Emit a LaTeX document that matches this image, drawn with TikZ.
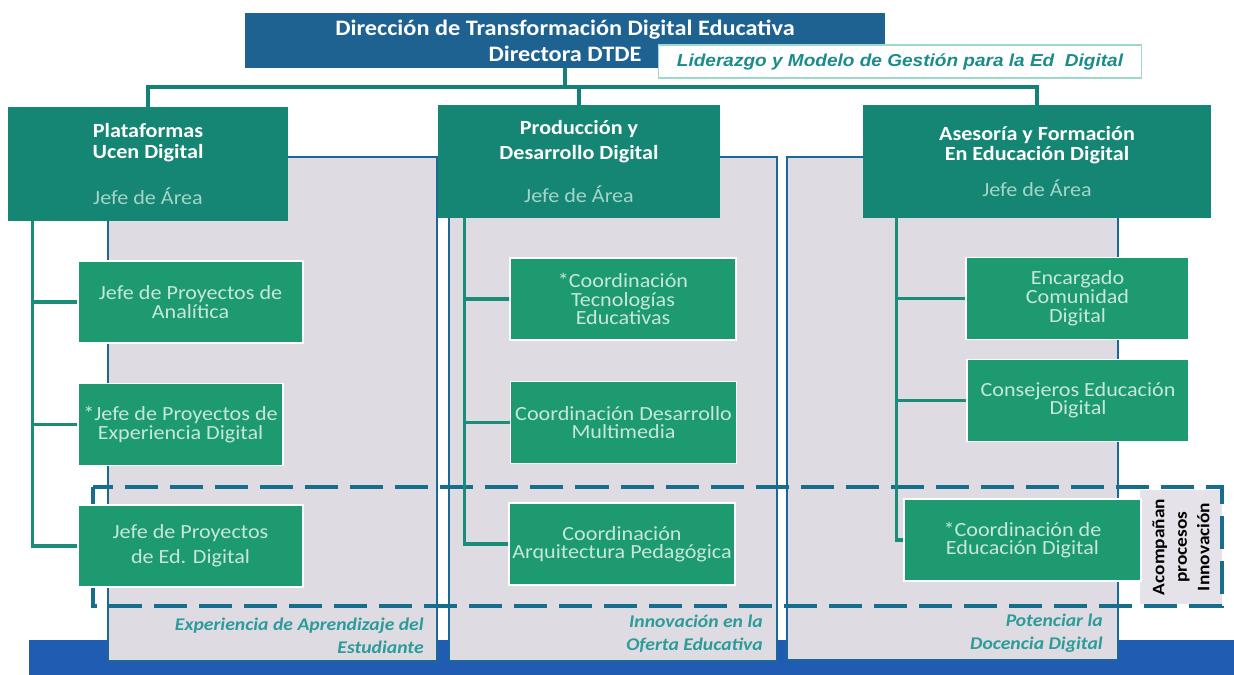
\documentclass[tikz,border=0pt]{standalone}
\usepackage{fontspec}
\setmainfont{Carlito}[FakeStretch=1.1]
\newfontfamily\arialfont{Liberation Sans}[FakeStretch=1.1]

\definecolor{dirblue}{HTML}{1D6290}
\definecolor{areateal}{HTML}{158673}
\definecolor{unitgreen}{HTML}{1E9A70}
\definecolor{panelgray}{HTML}{DEDBE3}
\definecolor{panelblue}{HTML}{1B6892}
\definecolor{treeteal}{HTML}{1A8C78}
\definecolor{linkteal}{HTML}{14807A}
\definecolor{dashblue}{HTML}{176E8C}
\definecolor{barblue}{HTML}{1F5CB2}
\definecolor{labelteal}{HTML}{2C9C98}
\definecolor{unittext}{HTML}{C6E7DA}
\definecolor{jefetext}{HTML}{A3D5C8}
\definecolor{lidborder}{HTML}{9ED8CB}
\definecolor{lidtext}{HTML}{1B8C8C}
\definecolor{notegray}{HTML}{E5E3E9}

\begin{document}
\begin{tikzpicture}[x=0.025cm, y=-0.025cm,
  area/.style={fill=areateal, text=white, align=center, inner sep=0pt,
    font=\bfseries\fontsize{14.3}{14.5}\selectfont},
  unit/.style={fill=unitgreen, draw=white, line width=0.8pt, text=unittext, align=center,
    inner sep=0pt, minimum height=2.05cm, font=\fontsize{14.3}{13}\selectfont},
  panel/.style={fill=panelgray, draw=panelblue, line width=2pt},
  link/.style={draw=linkteal, line width=2.2pt},
  tree/.style={draw=treeteal, line width=2.2pt},
  band/.style={draw=dashblue, line width=2.6pt, dash pattern=on 0.825cm off 0.3cm},
  goal/.style={text=labelteal, align=right, anchor=east, inner sep=0pt,
    font=\bfseries\itshape\fontsize{12.7}{16}\selectfont}]
\useasboundingbox (0,0) rectangle (1234,675);

% fondo y columnas
\fill[barblue] (29,640) rectangle (1234,675);
\draw[panel] (108,157) rectangle (437,661);
\draw[panel] (449,157) rectangle (777,661);
\draw[panel] (787,157) rectangle (1118,660);

\node[goal] (g1) at (424,636) {Experiencia de Aprendizaje del\\Estudiante};
\node[goal] (g2) at (763,634) {Innovación en la\\Oferta Educativa};
\node[goal] (g3) at (1103,633) {Potenciar la\\Docencia Digital};

\node[fill=notegray, rotate=90, minimum width=2.85cm, minimum height=2.05cm, inner sep=0pt,
  align=center, font=\bfseries\fontsize{12.5}{16}\selectfont] (acomp) at (1181,547)
  {Acompañan\\procesos\\Innovación};
\draw[band] (93,487) rectangle (1222,606);

% direccion
\node[fill=dirblue, text=white, minimum width=16cm, minimum height=1.375cm, align=center,
  font=\bfseries\fontsize{15.7}{18.5}\selectfont] (dir) at (565,40.5)
  {Dirección de Transformación Digital Educativa\\Directora DTDE};
\node[fill=white, draw=lidborder, line width=1pt, minimum width=12.075cm, minimum height=0.825cm,
  text=lidtext, font=\arialfont\bfseries\itshape\fontsize{12.3}{14}\selectfont] (lid) at (900,61.5)
  {Liderazgo y Modelo de Gestión para la Ed\ \ Digital};

% areas
\node[area, minimum width=7cm, minimum height=2.85cm] (pla) at (148,164)
  {Plataformas\\Ucen Digital\\[18pt]{\mdseries\color{jefetext}Jefe de Área}};
\node[area, minimum width=7.05cm, minimum height=2.825cm] (pro) at (579,161.5)
  {Producción y\\[3pt]Desarrollo Digital\\[16pt]{\mdseries\color{jefetext}Jefe de Área}};
\node[area, minimum width=8.7cm, minimum height=2.825cm] (ase) at (1037,161.5)
  {Asesoría y Formación\\En Educación Digital\\[11pt]{\mdseries\color{jefetext}Jefe de Área}};

\coordinate (bus) at (565,87);
\draw[link] (dir.south) -- (bus);
\draw[link] (pla.north) |- (bus) -| (ase.north);
\draw[link] (pro.north) -- (pro.north |- bus);

% unidades
\node[unit, minimum width=5.625cm] (ana) at (190.5,302) {Jefe de Proyectos de\\Analítica};
\node[unit, minimum width=5.125cm] (exp) at (180.5,424.5) {*Jefe de Proyectos de\\Experiencia Digital};
\node[unit, minimum width=5.625cm] (edd) at (190.5,546) {Jefe de Proyectos\\[5pt]de Ed. Digital};

\node[unit, minimum width=5.65cm] (tec) at (623,299) {*Coordinación\\Tecnologías\\Educativas};
\node[unit, minimum width=5.65cm] (mul) at (623.5,422.5) {Coordinación Desarrollo\\Multimedia};
\node[unit, minimum width=5.65cm] (arq) at (622,544) {Coordinación\\Arquitectura Pedagógica};

\node[unit, minimum width=5.575cm, font=\fontsize{14.3}{13.5}\selectfont] (enc) at (1077.5,298.5)
  {Encargado\\Comunidad\\Digital};
\node[unit, minimum width=5.55cm] (con) at (1078,400.5) {Consejeros Educación\\Digital};
\node[unit, minimum width=5.925cm] (cde) at (1022.5,540) {*Coordinación de\\Educación Digital};

\foreach \b in {ana,exp,edd}
  \draw[tree] ([xshift=0.625cm]pla.south west) |- (\b.west);
\foreach \b in {tec,mul,arq}
  \draw[tree] ([xshift=0.675cm]pro.south west) |- (\b.west);
\foreach \b in {enc,con,cde}
  \draw[tree] ([xshift=0.85cm]ase.south west) |- (\b.west);
\end{tikzpicture}
\end{document}
